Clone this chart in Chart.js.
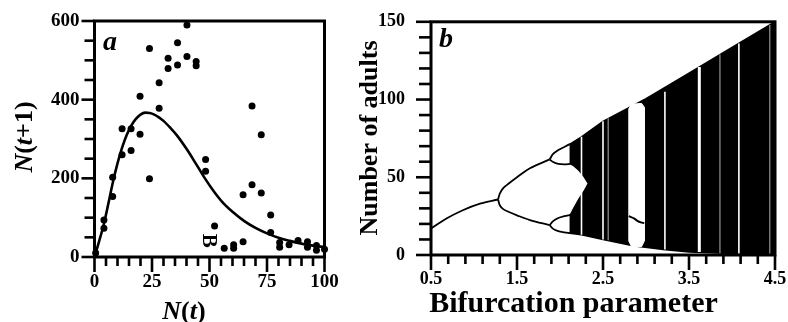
<!DOCTYPE html>
<html>
<head>
<meta charset="utf-8">
<script src="https://cdn.jsdelivr.net/npm/chart.js@4.4.0/dist/chart.umd.min.js"></script>
<style>
  html, body { margin: 0; padding: 0; background: #fff; }
  body { width: 788px; height: 322px; position: relative; overflow: hidden; }
  canvas { position: absolute; top: 0; }
  #chartA { left: 0; }
  #chartB { left: 330px; }
</style>
</head>
<body>
<canvas id="chartA" width="370" height="322"></canvas>
<canvas id="chartB" width="458" height="322"></canvas>
<script>
/* panel a: census pairs N(t), N(t+1) */
const nT  = [0.5, 4.1, 4.1, 7.9, 7.9, 12, 12, 15.9, 15.9, 19.8, 19.8, 23.9, 23.9, 28.1, 28.1, 32, 32, 36.1, 36.1, 40.2, 40.2, 44.2, 44.2, 48.3, 48.3, 52.2, 56.4, 60.5, 60.5, 64.6, 64.6, 68.5, 68.5, 72.5, 72.5, 76.6, 76.6, 80.5, 80.5, 84.6, 88.5, 92.6, 92.6, 96.5, 96.5, 100];
const nT1 = [10, 94, 73, 203, 154, 326, 260, 326, 271, 409, 312, 530, 199, 443, 378, 505, 479, 545, 488, 590, 510, 497, 486, 248, 218, 79, 22, 31, 22, 39, 158, 184, 384, 311, 163, 107, 62, 37, 25, 31, 42, 39, 25, 29, 17, 20];

/* fitted map */
const fitX = [0, 2, 4, 6, 8, 10, 12, 14, 16, 18, 20, 22, 24, 26, 28, 30, 33, 36, 40, 44, 48, 52, 56, 60, 65, 70, 75, 80, 85, 90, 95, 100];
const fitY = [0, 40, 82, 135, 190, 238, 278, 310, 334, 351, 362, 367, 366, 362, 355, 346, 328, 308, 275, 238, 200, 166, 137, 115, 92, 74, 60, 49, 41, 34, 29, 25];

const aXLabels = [0, 25, 50, 75, 100];
const aYLabels = [0, 200, 400, 600];
const oddMark = { x: 49.7, y: 41, text: 'B' };

/* panel b: bifurcation diagram */
const oneX = [0.5, 0.68, 0.87, 1.07, 1.28];
const oneY = [17, 23.5, 28.8, 33, 35.7];
const twoUpX = [1.28, 1.3, 1.34, 1.4, 1.5, 1.65, 1.88];
const twoUpY = [35.7, 39.5, 43, 45.8, 50, 55.8, 61.5];
const twoLoX = [1.28, 1.3, 1.34, 1.4, 1.5, 1.65, 1.88];
const twoLoY = [35.7, 32, 29.5, 27.8, 25.5, 22.5, 19.2];
const fourX = [1.88, 1.92, 1.98, 2.05, 2.12];
const fourUpTop = [61.5, 65, 67.5, 69.5, 71.5];
const fourUpBot = [61.5, 59.8, 58.6, 58.3, 58.6];
const fourLoTop = [19.2, 21.8, 23.8, 25, 25.8];
const fourLoBot = [19.2, 16.8, 15.4, 14.6, 14];

const chaosX = [2.12, 2.25, 2.5, 3.0, 3.5, 4.0, 4.5, 4.5, 4.0, 3.5, 3.2, 2.85, 2.5, 2.25, 2.12, 2.12, 2.16, 2.22, 2.28, 2.33, 2.28, 2.22, 2.16, 2.12, 2.12];
const chaosY = [71.5, 76, 86, 100.5, 117, 133.5, 150, 0.5, 1, 2, 3.5, 6, 10, 13, 14, 25.8, 30, 36, 41, 46, 50.5, 54.5, 57.5, 58.6, 71.5];

const bigWinX = [2.8, 2.83, 2.95, 2.98, 2.98, 2.95, 2.83, 2.8, 2.8];
const bigWinY = [94, 97, 97.5, 95, 9, 5.5, 5.5, 9, 94];
const threeX = [2.8, 2.86, 2.9, 2.94, 2.98];
const threeY = [25, 23.5, 22, 21, 20.5];

const windowX  = [2.25, 2.5, 2.56, 3.22, 3.62, 3.86, 4.08, 4.44];
const windowLo = [13, 10, 9.5, 3.5, 2, 1, 0.8, 0.5];
const windowHi = [76, 86, 88, 105, 121, 129, 136, 148];
const windowWidth = [1.6, 1.6, 0.7, 1.6, 3, 0.7, 1.6, 0.7];

const bXLabels = [0.5, 1.5, 2.5, 3.5, 4.5];
const bYLabels = [0, 50, 100, 150];

const SERIF = '"Liberation Serif", "Times New Roman", serif';
const pts = (xs, ys) => xs.map((x, i) => ({ x: x, y: ys[i] }));
const isLabel = (list, v) => list.some(l => Math.abs(l - v) < 1e-6);

/* frame + tick marks */
const axesPlugin = {
  id: 'axesPlugin',
  afterDatasetsDraw(chart, args, opts) {
    const ctx = chart.ctx;
    const { left, right, top, bottom } = chart.chartArea;
    ctx.save();
    ctx.strokeStyle = '#000';
    ['x', 'y'].forEach(id => {
      const scale = chart.scales[id];
      const o = opts[id];
      scale.ticks.forEach((t, i) => {
        const len = isLabel(o.labels, t.value) ? o.major : o.minor;
        const p = scale.getPixelForTick(i);
        ctx.lineWidth = o.width;
        ctx.beginPath();
        if (id === 'x') { ctx.moveTo(p, bottom); ctx.lineTo(p, bottom + len); }
        else { ctx.moveTo(left, p); ctx.lineTo(left - len, p); }
        ctx.stroke();
      });
    });
    ctx.lineWidth = opts.frame;
    ctx.strokeRect(left, top, right - left, bottom - top);
    ctx.restore();
  }
};

/* titles with mixed italic */
const textPlugin = {
  id: 'textPlugin',
  afterDraw(chart, args, opts) {
    const ctx = chart.ctx;
    opts.items.forEach(item => {
      let x = item.x, y = item.y;
      if (item.data) {
        x = chart.scales.x.getPixelForValue(item.data.x);
        y = chart.scales.y.getPixelForValue(item.data.y);
      }
      ctx.save();
      ctx.translate(x, y);
      ctx.rotate(item.rotate || 0);
      ctx.fillStyle = '#000';
      ctx.textBaseline = item.baseline || 'alphabetic';
      const font = p => (p.i ? 'italic ' : '') + 'bold ' + item.size + 'px ' + SERIF;
      let total = 0;
      item.parts.forEach(p => { ctx.font = font(p); total += ctx.measureText(p.t).width; });
      let cx = item.align === 'center' ? -total / 2 : 0;
      item.parts.forEach(p => {
        ctx.font = font(p);
        ctx.fillText(p.t, cx, 0);
        cx += ctx.measureText(p.t).width;
      });
      ctx.restore();
    });
  }
};

/* panel a */
new Chart(document.getElementById('chartA'), {
  type: 'scatter',
  data: {
    datasets: [
      {
        data: pts(nT, nT1),
        pointRadius: 3.5,
        backgroundColor: '#000',
        borderWidth: 0,
        clip: 8
      },
      {
        data: pts(fitX, fitY),
        showLine: true,
        borderColor: '#000',
        borderWidth: 2.6,
        pointRadius: 0,
        cubicInterpolationMode: 'monotone'
      }
    ]
  },
  options: {
    responsive: false,
    animation: false,
    layout: { padding: { top: 21, right: 45.5, left: 0, bottom: 0 } },
    plugins: {
      legend: { display: false },
      tooltip: { enabled: false },
      axesPlugin: {
        frame: 3,
        x: { labels: aXLabels, major: 15, minor: 9, width: 2.6 },
        y: { labels: aYLabels, major: 13, minor: 10, width: 2.6 }
      },
      textPlugin: {
        items: [
          { x: 103, y: 50, size: 28, parts: [{ t: 'a', i: true }] },
          { x: 184, y: 319, size: 26, align: 'center', parts: [{ t: 'N', i: true }, { t: '(' }, { t: 't', i: true }, { t: ')' }] },
          { x: 32, y: 137, size: 26, align: 'center', rotate: -Math.PI / 2, parts: [{ t: 'N', i: true }, { t: '(' }, { t: 't', i: true }, { t: '+1)' }] },
          { data: oddMark, size: 21, align: 'center', baseline: 'middle', rotate: Math.PI / 2, parts: [{ t: oddMark.text }] }
        ]
      }
    },
    scales: {
      x: {
        type: 'linear', min: 0, max: 100,
        border: { display: false },
        grid: { drawOnChartArea: false, tickLength: 14, tickColor: 'transparent' },
        ticks: {
          stepSize: 5, autoSkip: false, maxRotation: 0, padding: 0, color: '#000',
          font: { family: SERIF, size: 19, weight: 'bold' },
          callback: v => isLabel(aXLabels, v) ? String(Math.round(v)) : ''
        },
        afterFit: s => { s.height = 65; }
      },
      y: {
        type: 'linear', min: 0, max: 600,
        border: { display: false },
        grid: { drawOnChartArea: false, tickLength: 13, tickColor: 'transparent' },
        ticks: {
          stepSize: 50, autoSkip: false, padding: 2, color: '#000',
          font: { family: SERIF, size: 19, weight: 'bold' },
          callback: v => isLabel(aYLabels, v) ? String(Math.round(v)) : ''
        },
        afterFit: s => { s.width = 94.5; }
      }
    }
  },
  plugins: [axesPlugin, textPlugin]
});

/* panel b */
const lineSet = (xs, ys, extra) => Object.assign({
  data: pts(xs, ys),
  showLine: true,
  borderColor: '#000',
  borderWidth: 1.8,
  pointRadius: 0,
  tension: 0.35,
  order: 2
}, extra || {});

const windowSets = windowX.map((x, i) => ({
  data: pts([x, x], [windowLo[i], windowHi[i]]),
  showLine: true,
  borderColor: '#fff',
  borderWidth: windowWidth[i],
  pointRadius: 0,
  order: 4
}));

new Chart(document.getElementById('chartB'), {
  type: 'scatter',
  data: {
    datasets: [
      lineSet(oneX, oneY),
      lineSet(twoUpX, twoUpY),
      lineSet(twoLoX, twoLoY),
      lineSet(fourX, fourUpTop),
      lineSet(fourX, fourUpBot),
      lineSet(fourX, fourLoTop),
      lineSet(fourX, fourLoBot),
      lineSet(threeX, threeY, { borderWidth: 2 }),
      {
        data: pts(bigWinX, bigWinY),
        showLine: true, fill: 'shape', tension: 0,
        backgroundColor: '#fff', borderColor: '#fff', borderWidth: 1,
        pointRadius: 0, order: 3
      },
      ...windowSets,
      {
        data: pts(chaosX, chaosY),
        showLine: true, fill: 'shape', tension: 0,
        backgroundColor: '#000', borderColor: '#000', borderWidth: 1.5,
        pointRadius: 0, order: 6
      }
    ]
  },
  options: {
    responsive: false,
    animation: false,
    layout: { padding: { top: 21, right: 13, left: 0, bottom: 0 } },
    plugins: {
      legend: { display: false },
      tooltip: { enabled: false },
      axesPlugin: {
        frame: 3,
        x: { labels: bXLabels, major: 15, minor: 9, width: 2.6 },
        y: { labels: bYLabels, major: 15, minor: 12, width: 2.6 }
      },
      textPlugin: {
        items: [
          { x: 109, y: 47, size: 28, parts: [{ t: 'b', i: true }] },
          { x: 243.5, y: 312, size: 30, align: 'center', parts: [{ t: 'Bifurcation parameter' }] },
          { x: 47, y: 138, size: 26, align: 'center', rotate: -Math.PI / 2, parts: [{ t: 'Number of adults' }] }
        ]
      }
    },
    scales: {
      x: {
        type: 'linear', min: 0.5, max: 4.5,
        border: { display: false },
        grid: { drawOnChartArea: false, tickLength: 14, tickColor: 'transparent' },
        ticks: {
          stepSize: 0.2, autoSkip: false, maxRotation: 0, padding: 0, color: '#000',
          font: { family: SERIF, size: 18, weight: 'bold' },
          callback: v => isLabel(bXLabels, v) ? (Math.round(v * 10) / 10).toFixed(1) : ''
        },
        afterFit: s => { s.height = 67; }
      },
      y: {
        type: 'linear', min: 0, max: 150,
        border: { display: false },
        grid: { drawOnChartArea: false, tickLength: 15, tickColor: 'transparent' },
        ticks: {
          stepSize: 10, autoSkip: false, padding: 11, color: '#000',
          font: { family: SERIF, size: 18, weight: 'bold' },
          callback: v => isLabel(bYLabels, v) ? String(Math.round(v)) : ''
        },
        afterFit: s => { s.width = 101; }
      }
    }
  },
  plugins: [axesPlugin, textPlugin]
});
</script>
</body>
</html>
